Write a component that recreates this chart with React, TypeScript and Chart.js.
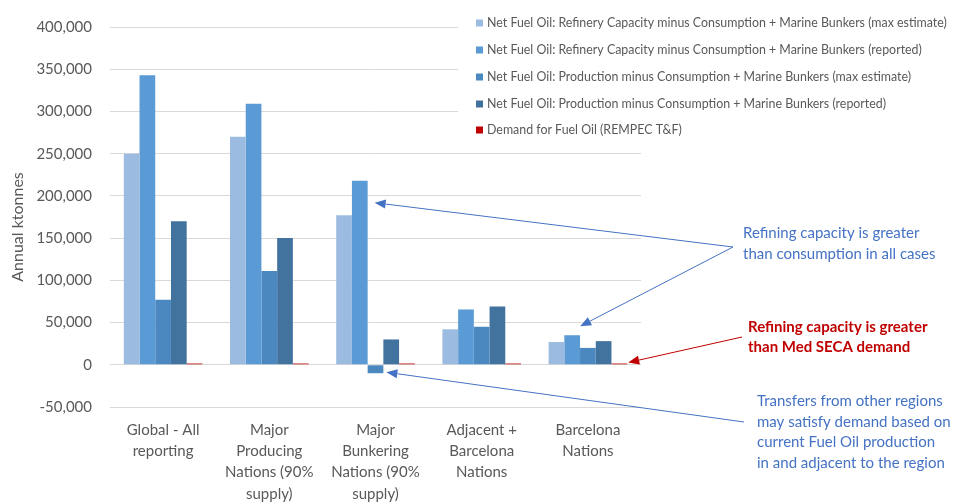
import React, { useEffect, useRef } from 'react';
import { Chart, registerables } from 'chart.js';

Chart.register(...registerables);

const categories: string[][] = [
  ['Global - All', 'reporting'],
  ['Major', 'Producing', 'Nations (90%', 'supply)'],
  ['Major', 'Bunkering', 'Nations (90%', 'supply)'],
  ['Adjacent +', 'Barcelona', 'Nations'],
  ['Barcelona', 'Nations'],
];

const seriesNames = [
  'Net Fuel Oil: Refinery Capacity minus Consumption + Marine Bunkers (max estimate)',
  'Net Fuel Oil: Refinery Capacity minus Consumption + Marine Bunkers (reported)',
  'Net Fuel Oil: Production minus Consumption + Marine Bunkers (max estimate)',
  'Net Fuel Oil: Production minus Consumption + Marine Bunkers (reported)',
  'Demand for Fuel Oil (REMPEC T&F)',
];

const refineryMax = [250000, 270000, 177000, 42000, 27000];
const refineryReported = [343000, 309000, 218000, 65500, 35000];
const productionMax = [77000, 111000, -10000, 45000, 20000];
const productionReported = [170000, 150000, 30000, 69000, 28000];
const demand = [1500, 1500, 1500, 1500, 1500];

const seriesColors = ['#9BBBE0', '#5B9BD5', '#4B88BF', '#42739F', '#C00000'];

const yMin = -50000;
const yMax = 400000;
const yStep = 50000;

const yTitle = 'Annual ktonnes';
const noteBlue1 = ['Refining capacity is greater', 'than consumption in all cases'];
const noteRed = ['Refining capacity is greater', 'than Med SECA demand'];
const noteBlue2 = [
  'Transfers from other regions',
  'may satisfy demand based on',
  'current Fuel Oil production',
  'in and adjacent to the region',
];

const FONT = 'Lato, "Open Sans", sans-serif';
const GREY = '#595959';
const BLUE = '#4472C4';
const RED = '#C00000';

function arrow(ctx: CanvasRenderingContext2D, x0: number, y0: number, x1: number, y1: number, color: string) {
  const ang = Math.atan2(y1 - y0, x1 - x0);
  const len = 11;
  const hw = 4.5;
  const bx = x1 - len * Math.cos(ang);
  const by = y1 - len * Math.sin(ang);
  ctx.save();
  ctx.strokeStyle = color;
  ctx.fillStyle = color;
  ctx.lineWidth = 1;
  ctx.beginPath();
  ctx.moveTo(x0, y0);
  ctx.lineTo(bx, by);
  ctx.stroke();
  ctx.beginPath();
  ctx.moveTo(x1, y1);
  ctx.lineTo(bx + hw * Math.sin(ang), by - hw * Math.cos(ang));
  ctx.lineTo(bx - hw * Math.sin(ang), by + hw * Math.cos(ang));
  ctx.closePath();
  ctx.fill();
  ctx.restore();
}

const overlayPlugin = {
  id: 'overlay',
  afterDraw(chart: any) {
    const ctx: CanvasRenderingContext2D = chart.ctx;
    ctx.save();
    // y axis title
    ctx.save();
    ctx.translate(18, 227);
    ctx.rotate(-Math.PI / 2);
    ctx.font = `16px ${FONT}`;
    ctx.fillStyle = GREY;
    ctx.textAlign = 'center';
    ctx.textBaseline = 'middle';
    ctx.fillText(yTitle, 0, 0);
    ctx.restore();

    // legend
    ctx.fillStyle = '#FFFFFF';
    ctx.fillRect(458, 0, 955 - 458, 143);
    const rows = [23, 50, 77, 104, 130];
    ctx.font = `12.4px ${FONT}`;
    ctx.textBaseline = 'middle';
    ctx.textAlign = 'left';
    seriesNames.forEach((name, i) => {
      ctx.fillStyle = seriesColors[i];
      ctx.fillRect(476, rows[i] - 3.5, 7, 7);
      ctx.fillStyle = GREY;
      ctx.fillText(name, 487, rows[i]);
    });

    // annotation texts
    ctx.font = `15px ${FONT}`;
    ctx.fillStyle = BLUE;
    noteBlue1.forEach((t, i) => ctx.fillText(t, 743, 233 + i * 21));
    ctx.font = `bold 15px ${FONT}`;
    ctx.fillStyle = RED;
    noteRed.forEach((t, i) => ctx.fillText(t, 748, 327 + i * 20.5));
    ctx.font = `15px ${FONT}`;
    ctx.fillStyle = BLUE;
    noteBlue2.forEach((t, i) => ctx.fillText(t, 757, 401 + i * 20.7));
    ctx.restore();

    // arrows anchored to bars
    const b1 = chart.getDatasetMeta(1).data[2];
    const b2 = chart.getDatasetMeta(1).data[4];
    const b3 = chart.getDatasetMeta(4).data[4];
    const b4 = chart.getDatasetMeta(2).data[2];
    arrow(ctx, 733, 247, b1.x + b1.width / 2 + 7, b1.y + 22, BLUE);
    arrow(ctx, 733, 247, b2.x + 8, b2.y - 9, BLUE);
    arrow(ctx, 742, 337, b3.x + b3.width / 2 + 1, b3.y - 1, RED);
    arrow(ctx, 744, 422, b4.x + b4.width / 2 + 3, b4.y - 1, BLUE);
  },
};

export default function App() {
  const ref = useRef<HTMLCanvasElement | null>(null);

  useEffect(() => {
    if (!ref.current) return;
    const data = [refineryMax, refineryReported, productionMax, productionReported, demand];
    const chart = new Chart(ref.current, {
      type: 'bar',
      data: {
        labels: categories,
        datasets: data.map((d, i) => ({
          label: seriesNames[i],
          data: d,
          backgroundColor: seriesColors[i],
          borderWidth: 0,
          categoryPercentage: 0.74,
          barPercentage: 1,
        })),
      },
      options: {
        responsive: false,
        animation: false,
        layout: { padding: { top: 20, right: 314, left: 0, bottom: 0 } },
        plugins: {
          legend: { display: false },
          tooltip: { enabled: false },
        },
        scales: {
          x: {
            grid: { display: false, drawTicks: false },
            border: { display: false },
            ticks: {
              color: GREY,
              font: { family: FONT, size: 15, lineHeight: 1.43 },
              padding: 12,
              maxRotation: 0,
              autoSkip: false,
            },
            afterFit: (s: any) => {
              s.height = 97;
            },
          },
          y: {
            min: yMin,
            max: yMax,
            grid: { color: '#D9D9D9', lineWidth: 1, drawTicks: false },
            border: { display: false },
            ticks: {
              stepSize: yStep,
              color: GREY,
              font: { family: FONT, size: 15 },
              padding: 18,
              callback: (v: any) => Number(v).toLocaleString('en-US'),
            },
            title: { display: false },
            afterFit: (s: any) => {
              s.width = 110;
            },
          },
        },
      },
      plugins: [overlayPlugin],
    });
    return () => chart.destroy();
  }, []);

  return (
    <div style={{ position: 'fixed', left: 0, top: 0, width: 955, height: 504, background: '#fff' }}>
      <canvas ref={ref} width={955} height={504} />
    </div>
  );
}
